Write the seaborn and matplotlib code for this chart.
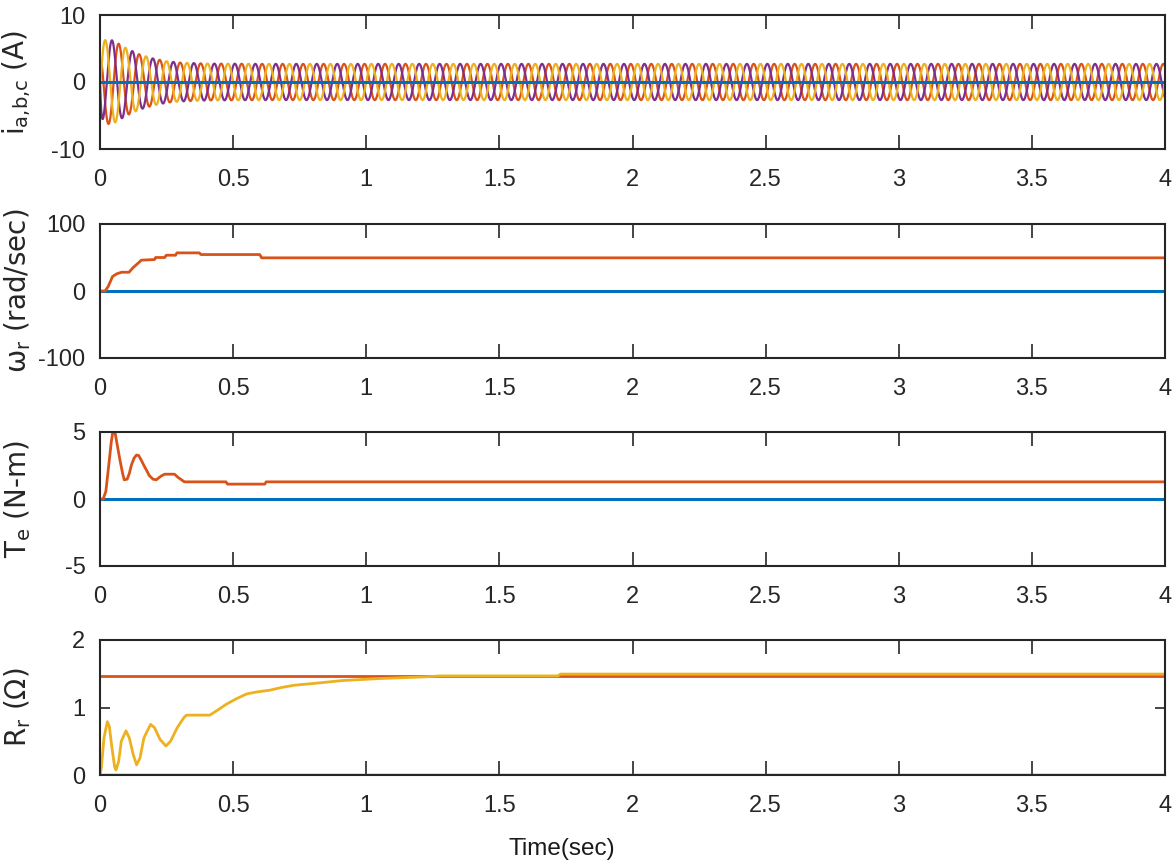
import numpy as np
import pandas as pd
import matplotlib
matplotlib.use("Agg")
import matplotlib.pyplot as plt
import seaborn as sns

# ---------------- data ----------------
# Panel 1: three-phase stator currents (sinusoid with read envelope)
cur_freq_hz = 13.0
cur_env_t = [0.0, 0.02, 0.05, 0.10, 0.15, 0.20, 0.25, 0.30, 0.40, 0.60, 4.0]
cur_env_a = [6.3, 6.3, 6.2, 5.0, 4.1, 3.5, 3.1, 2.9, 2.75, 2.7, 2.7]
cur_phase_shift = [0.0, -2.0 * np.pi / 3, -4.0 * np.pi / 3]   # yellow, purple, orange

# Panel 2: rotor speed (rad/sec)
w_t = [0, 0.019, 0.031, 0.047, 0.062, 0.081, 0.109, 0.124, 0.149, 0.155, 0.205, 0.209,
       0.243, 0.249, 0.284, 0.289, 0.373, 0.379, 0.600, 0.607, 4.0]
w_v = [0, 0, 6.9, 21.6, 25.5, 28, 28, 34.8, 43.6, 46, 47, 50,
       50, 53.4, 53.4, 56.9, 56.9, 54.4, 54.4, 49.5, 49.5]

# Panel 3: electromagnetic torque (N-m)
te_t = [0, 0.012, 0.022, 0.035, 0.042, 0.047, 0.052, 0.057, 0.065, 0.075, 0.085, 0.091,
        0.102, 0.110, 0.118, 0.128, 0.137, 0.145, 0.155, 0.165, 0.174, 0.185, 0.199,
        0.211, 0.230, 0.243, 0.280, 0.292, 0.317, 0.473, 0.479, 0.619, 0.624, 4.0]
te_v = [0, 0, 0.57, 2.9, 4.2, 4.88, 5.0, 4.9, 4.0, 2.9, 1.9, 1.43,
        1.48, 1.9, 2.54, 3.05, 3.28, 3.25, 2.9, 2.5, 2.17, 1.75, 1.48,
        1.43, 1.72, 1.85, 1.85, 1.63, 1.28, 1.28, 1.11, 1.11, 1.28, 1.28]

# Panel 4: rotor resistance (actual and estimated)
rr_actual = 1.467
rr_t = [0, 0.005, 0.015, 0.0275, 0.035, 0.045, 0.055, 0.06, 0.07, 0.08, 0.0975, 0.11,
        0.125, 0.1375, 0.15, 0.165, 0.19, 0.205, 0.225, 0.2475, 0.265, 0.29, 0.315,
        0.325, 0.4125, 0.4375, 0.475, 0.5125, 0.55, 0.5875, 0.6375, 0.68, 0.73,
        0.8125, 0.9125, 1.056, 1.2125, 1.28, 1.72, 1.73, 4.0]
rr_v = [0, 0.1, 0.55, 0.79, 0.72, 0.4, 0.12, 0.074, 0.2, 0.5, 0.655, 0.55,
        0.3, 0.15, 0.25, 0.55, 0.75, 0.7, 0.53, 0.43, 0.5, 0.7, 0.85,
        0.887, 0.887, 0.95, 1.05, 1.13, 1.2, 1.23, 1.256, 1.295, 1.33,
        1.36, 1.40, 1.43, 1.453, 1.468, 1.468, 1.495, 1.495]

x_ticks = [0, 0.5, 1, 1.5, 2, 2.5, 3, 3.5, 4]
x_tick_labels = ["0", "0.5", "1", "1.5", "2", "2.5", "3", "3.5", "4"]

C_BLUE = "#0072BD"
C_ORANGE = "#D95319"
C_YELLOW = "#EDB120"
C_PURPLE = "#7E2F8E"

# ---------------- style ----------------
sns.set_style("ticks")
plt.rcParams["font.family"] = ["Liberation Sans Narrow", "Liberation Sans", "DejaVu Sans"]
plt.rcParams["axes.unicode_minus"] = False

fig = plt.figure(figsize=(11.74, 8.65), dpi=100)
W, H = 1174.0, 865.0
left_px, right_px = 100, 1165
panels_px = [(15, 149), (224, 358), (432, 566), (640, 775)]
axes = []
for top, bot in panels_px:
    ax = fig.add_axes([left_px / W, 1 - bot / H, (right_px - left_px) / W, (bot - top) / H])
    axes.append(ax)

LW = 1.6

# Panel 1
t = np.linspace(0, 4, 12001)
env = np.interp(t, cur_env_t, cur_env_a)
ramp = 1 - np.exp(-t / 0.004)
rows = []
for name, ph in zip(["a", "b", "c"], cur_phase_shift):
    y = env * ramp * np.sin(2 * np.pi * cur_freq_hz * t + ph)
    rows.append(pd.DataFrame({"t": t, "i": y, "phase": name}))
df_cur = pd.concat(rows, ignore_index=True)
ax = axes[0]
for name, col in zip(["c", "b", "a"], [C_ORANGE, C_PURPLE, C_YELLOW]):
    d = df_cur[df_cur["phase"] == name]
    sns.lineplot(data=d, x="t", y="i", ax=ax, color=col, lw=LW, estimator=None, sort=False)
sns.lineplot(x=[0, 4], y=[0, 0], ax=ax, color=C_BLUE, lw=2.2, estimator=None)
ax.set_ylim(-10, 10)
ax.set_yticks([-10, 0, 10])
ax.set_ylabel(r"i$_{\mathregular{a{,}b{,}c}}$ (A)")

# Panel 2
ax = axes[1]
sns.lineplot(x=[0, 4], y=[0, 0], ax=ax, color=C_BLUE, lw=2.2, estimator=None)
sns.lineplot(x=w_t, y=w_v, ax=ax, color=C_ORANGE, lw=2.0, estimator=None, sort=False)
ax.set_ylim(-100, 100)
ax.set_yticks([-100, 0, 100])
ax.set_ylabel(r"ω$_{\mathregular{r}}$ (rad/sec)")

# Panel 3
ax = axes[2]
sns.lineplot(x=[0, 4], y=[0, 0], ax=ax, color=C_BLUE, lw=2.2, estimator=None)
sns.lineplot(x=te_t, y=te_v, ax=ax, color=C_ORANGE, lw=2.0, estimator=None, sort=False)
ax.set_ylim(-5, 5)
ax.set_yticks([-5, 0, 5])
ax.set_ylabel(r"T$_{\mathregular{e}}$ (N-m)")

# Panel 4
ax = axes[3]
sns.lineplot(x=[0, 4], y=[0, 0], ax=ax, color=C_BLUE, lw=2.4, estimator=None)
sns.lineplot(x=[0, 4], y=[rr_actual, rr_actual], ax=ax, color=C_ORANGE, lw=2.0, estimator=None)
sns.lineplot(x=rr_t, y=rr_v, ax=ax, color=C_YELLOW, lw=2.0, estimator=None, sort=False)
ax.set_ylim(0, 2)
ax.set_yticks([0, 1, 2])
ax.set_ylabel(r"R$_{\mathregular{r}}$ (Ω)")

for i, ax in enumerate(axes):
    ax.set_xlim(0, 4)
    ax.set_xticks(x_ticks)
    ax.set_xticklabels(x_tick_labels)
    ax.tick_params(axis="x", direction="in", length=10, width=1.2, top=True, bottom=True,
                   pad=14.5, labelsize=17, colors="#262626")
    ax.tick_params(axis="y", direction="in", length=7, width=1.2, left=True, right=True,
                   pad=10.5, labelsize=17, colors="#262626")
    for s in ax.spines.values():
        s.set_visible(True)
        s.set_linewidth(1.5)
        s.set_color("#262626")
    ax.set_xlabel("")
    ax.yaxis.label.set_family(["DejaVu Sans"])
    ax.yaxis.label.set_size(20)
    ax.yaxis.label.set_color("#262626")
    ax.yaxis.set_label_coords(-0.0625, 0.5)

fig.text(562 / W, 1 - 849 / H, "Time(sec)", ha="center", va="center",
         fontsize=17.5, family=["Liberation Sans", "DejaVu Sans"], color="#1a1a1a")

fig.savefig("out.png", dpi=100, facecolor="white")
